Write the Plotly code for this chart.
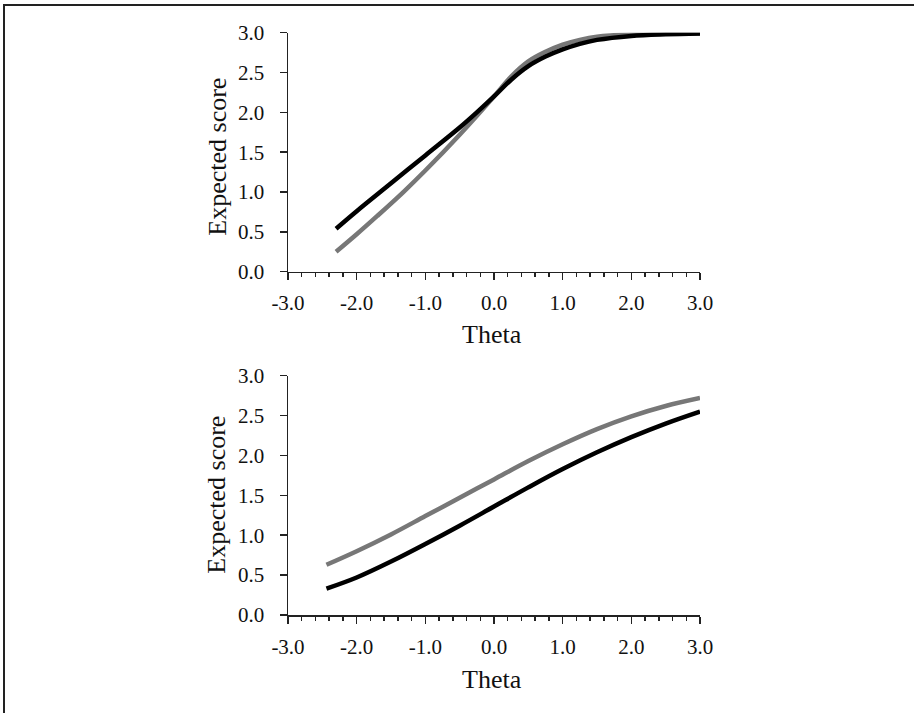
import plotly.graph_objects as go

# ---- data ----
top_theta_black = [-2.3, -2.0, -1.5, -1.0, -0.5, -0.25, 0.0, 0.25, 0.5, 0.75, 1.0, 1.25, 1.5, 2.0, 2.5, 3.0]
top_black = [0.54, 0.76, 1.11, 1.46, 1.81, 2.00, 2.20, 2.41, 2.58, 2.70, 2.79, 2.86, 2.91, 2.96, 2.98, 2.99]
top_theta_gray = [-2.3, -2.0, -1.7, -1.32, -1.0, -0.5, 0.0, 0.25, 0.5, 0.75, 1.0, 1.25, 1.5, 2.0, 2.5, 3.0]
top_gray = [0.25, 0.47, 0.70, 1.00, 1.27, 1.72, 2.20, 2.45, 2.64, 2.76, 2.85, 2.91, 2.95, 2.98, 2.99, 2.99]

bot_theta = [-2.44, -2.0, -1.5, -1.0, -0.5, 0.0, 0.5, 1.0, 1.5, 2.0, 2.5, 3.0]
bot_gray = [0.63, 0.80, 1.01, 1.24, 1.47, 1.70, 1.93, 2.14, 2.33, 2.49, 2.62, 2.72]
bot_black = [0.33, 0.47, 0.67, 0.89, 1.12, 1.36, 1.60, 1.83, 2.04, 2.23, 2.40, 2.55]

x_tickvals = [-3, -2, -1, 0, 1, 2, 3]
x_ticktext = ["-3.0", "-2.0", "-1.0", "0.0", "1.0", "2.0", "3.0"]
y_tickvals = [0, 0.5, 1, 1.5, 2, 2.5, 3]
y_ticktext = ["0.0", "0.5", "1.0", "1.5", "2.0", "2.5", "3.0"]

x_title = "Theta"
y_title = "Expected score"

BLACK = "#000000"
GRAY = "#777777"
AXC = "#222222"
FONT = "Liberation Serif"

W, H = 914, 713
xdom = [288 / W, 700 / W]
ydom_top = [(H - 271.7) / H, (H - 32.7) / H]
ydom_bot = [(H - 615) / H, (H - 375.7) / H]

fig = go.Figure()

line_kw = dict(mode="lines", line_shape="spline", hoverinfo="skip", showlegend=False)
fig.add_trace(go.Scatter(x=top_theta_gray, y=top_gray, line=dict(color=GRAY, width=4.5, smoothing=1.0),
                         xaxis="x", yaxis="y", **line_kw))
fig.add_trace(go.Scatter(x=top_theta_black, y=top_black, line=dict(color=BLACK, width=4.5, smoothing=1.0),
                         xaxis="x", yaxis="y", **line_kw))
fig.add_trace(go.Scatter(x=bot_theta, y=bot_gray, line=dict(color=GRAY, width=4.5, smoothing=1.0),
                         xaxis="x2", yaxis="y2", **line_kw))
fig.add_trace(go.Scatter(x=bot_theta, y=bot_black, line=dict(color=BLACK, width=4.5, smoothing=1.0),
                         xaxis="x2", yaxis="y2", **line_kw))

xax = dict(range=[-3, 3], domain=xdom, showgrid=False, zeroline=False, automargin=False,
           showline=True, linecolor=AXC, linewidth=1.5,
           ticks="outside", ticklen=7, tickwidth=1.5, tickcolor=AXC,
           tickmode="array", tickvals=x_tickvals, ticktext=x_ticktext,
           tickfont=dict(family=FONT, size=21, color="#111111"),
           ticklabelstandoff=5,
           minor=dict(dtick=0.2, tick0=-3, ticks="outside", ticklen=4, tickwidth=1.5, tickcolor=AXC, showgrid=False),
           fixedrange=True)
yax = dict(range=[0, 3], showgrid=False, zeroline=False, automargin=False,
           showline=True, linecolor=AXC, linewidth=1.5,
           ticks="outside", ticklen=7, tickwidth=1.5, tickcolor=AXC,
           tickmode="array", tickvals=y_tickvals, ticktext=y_ticktext,
           tickfont=dict(family=FONT, size=21, color="#111111"),
           ticklabelstandoff=11,
           fixedrange=True)

fig.update_layout(
    template="none",
    width=W, height=H,
    margin=dict(l=0, r=0, t=0, b=0, autoexpand=False),
    paper_bgcolor="white", plot_bgcolor="white",
    xaxis=dict(**xax, anchor="y"),
    yaxis=dict(**yax, domain=ydom_top, anchor="x"),
    xaxis2=dict(**xax, anchor="y2"),
    yaxis2=dict(**yax, domain=ydom_bot, anchor="x2"),
)

ann_font = dict(family=FONT, size=26, color="#111111")
annots = [
    dict(text=x_title, x=492 / W, y=(H - 334) / H),
    dict(text=x_title, x=492 / W, y=(H - 679) / H),
    dict(text=y_title, x=216.7 / W, y=(H - 157) / H, textangle=-90),
    dict(text=y_title, x=216.7 / W, y=(H - 495) / H, textangle=-90),
]
for a in annots:
    fig.add_annotation(xref="paper", yref="paper", showarrow=False,
                       xanchor="center", yanchor="middle", font=ann_font, **a)

# frame lines (top and left) around the figure
fig.add_shape(type="line", xref="paper", yref="paper", x0=3 / W, x1=1, y0=(H - 5) / H, y1=(H - 5) / H,
              line=dict(color="#222222", width=2))
fig.add_shape(type="line", xref="paper", yref="paper", x0=4 / W, x1=4 / W, y0=0, y1=(H - 4) / H,
              line=dict(color="#222222", width=2))

fig.write_html("out.html", config={"displayModeBar": False, "staticPlot": True},
               post_script="document.body.style.margin='0';document.body.style.overflow='hidden';")
